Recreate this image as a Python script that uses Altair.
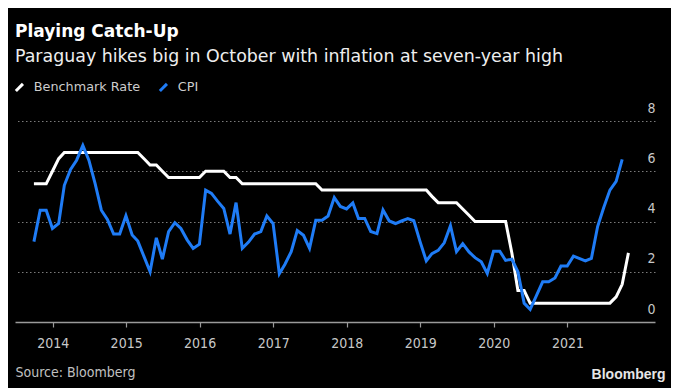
import altair as alt
import pandas as pd

# ---- data (monthly, month-end) ----
first_month = (2013, 9)  # September 2013
series_names = ["Benchmark Rate", "CPI"]
series_colors = ["#ffffff", "#1f7cf6"]

rate_values = (
    [5.5, 5.5, 5.5, 6.0, 6.5]
    + [6.75] * 13
    + [6.5, 6.25, 6.25, 6.0]
    + [5.75] * 6
    + [6.0] * 4
    + [5.75] * 2
    + [5.5] * 13
    + [5.25] * 18
    + [5.0]
    + [4.75] * 4
    + [4.5, 4.25]
    + [4.0] * 6
    + [2.75, 1.25, 1.25]
    + [0.75] * 14
    + [1.0, 1.5, 2.75]
)

cpi_values = [
    3.2, 4.45, 4.45, 3.72,                                   # 2013 Sep-Dec
    3.92, 5.44, 6.07, 6.44, 7.03, 6.44, 5.51, 4.45, 4.08, 3.5, 3.5, 4.23,   # 2014
    3.46, 3.22, 2.6, 2.0, 3.35, 2.5, 3.6, 3.95, 3.72, 3.27, 2.93, 3.1,      # 2015
    5.25, 5.12, 4.8, 4.52, 3.5, 4.75, 2.93, 3.18, 3.5, 3.6, 4.22, 3.92,     # 2016
    1.92, 2.3, 2.8, 3.64, 3.45, 2.93, 4.05, 4.05, 4.22, 4.95, 4.6, 4.5,     # 2017
    4.74, 4.12, 4.12, 3.6, 3.52, 4.46, 4.02, 3.92, 4.02, 4.12, 4.03, 3.2,   # 2018
    2.43, 2.72, 2.85, 3.15, 3.83, 2.8, 3.12, 2.79, 2.56, 2.4, 1.93, 2.82,   # 2019
    2.82, 2.45, 2.5, 2.0, 0.75, 0.5, 1.05, 1.6, 1.6, 1.75, 2.23, 2.23,      # 2020
    2.62, 2.53, 2.43, 2.53, 3.8, 4.55, 5.25, 5.6, 6.47,                     # 2021 Jan-Sep
]

year_ticks = list(range(2014, 2022))
y_ticks = [0, 2, 4, 6, 8]


def month_ends(n):
    out = []
    y, m = first_month
    for _ in range(n):
        ts = pd.Timestamp(year=y, month=m, day=1) + pd.offsets.MonthEnd(0)
        out.append(ts.strftime("%Y-%m-%d"))
        m += 1
        if m > 12:
            m = 1
            y += 1
    return out


df_rate = pd.DataFrame({"date": month_ends(len(rate_values)), "value": rate_values,
                        "series": series_names[0]})
df_cpi = pd.DataFrame({"date": month_ends(len(cpi_values)), "value": cpi_values,
                       "series": series_names[1]})

COND = "DejaVu Sans Condensed"
REG = "DejaVu Sans"

x_enc = alt.X(
    "date:T",
    scale=alt.Scale(domain=[alt.DateTime(year=2013, month=6, date=28),
                            alt.DateTime(year=2022, month=3, date=12)]),
    axis=alt.Axis(
        values=[alt.DateTime(year=y, month=1, date=1) for y in year_ticks],
        format="%Y", grid=False,
        domain=True, domainColor="#9a9a9a", domainWidth=1.5,
        ticks=True, tickColor="#9a9a9a", tickSize=5, tickWidth=1.2,
        labelFont=COND, labelFontSize=14, labelColor="#c8c8c8", labelPadding=9,
        title="Source: Bloomberg", titleX=0, titleY=54, titleAlign="left",
        titleBaseline="alphabetic", titleFont=COND, titleFontSize=14,
        titleFontWeight="normal", titleColor="#c0c0c0",
    ),
)

y_enc = alt.Y(
    "value:Q",
    scale=alt.Scale(domain=[0, 8], nice=False),
    axis=alt.Axis(
        orient="right", values=y_ticks,
        grid=True, gridDash=[1.5, 2.5], gridColor="#7a7a7a", gridWidth=1,
        gridOpacity={"condition": {"test": "datum.value === 0", "value": 0}, "value": 1},
        domain=False, ticks=False, tickSize=0,
        labelAlign="right", labelPadding=0, labelBaseline="alphabetic", labelOffset=-9,
        labelFont=COND, labelFontSize=14, labelColor="#c8c8c8",
        title="Bloomberg", titleAngle=0, titleAlign="right", titleBaseline="alphabetic",
        titleX=10, titleY=257, titleFont="Liberation Sans", titleFontWeight="bold",
        titleFontSize=14, titleColor="#e6e6e6",
    ),
)

color_enc = alt.Color(
    "series:N",
    scale=alt.Scale(domain=series_names, range=series_colors),
    legend=alt.Legend(
        orient="none", legendX=-2, legendY=-40, direction="horizontal", title=None,
        symbolType="M-1,1L1,-1", symbolSize=50, symbolStrokeWidth=3,
        labelFont=REG, labelFontSize=12.8, labelColor="#cccccc",
        labelOffset=8, columnPadding=12, padding=0,
    ),
)

rate_line = alt.Chart(df_rate).mark_line(strokeWidth=3).encode(x=x_enc, y=y_enc, color=color_enc)
cpi_line = alt.Chart(df_cpi).mark_line(strokeWidth=3).encode(x=x_enc, y=y_enc, color=color_enc)

chart = (
    alt.layer(rate_line, cpi_line)
    .properties(
        width=640, height=201,
        autosize=alt.AutoSizeParams(type="none"),
        padding={"left": 7, "top": 113, "right": 16, "bottom": 66},
        background="#000000",
        title=alt.TitleParams(
            text="Playing Catch-Up",
            subtitle="Paraguay hikes big in October with inflation at seven-year high",
            anchor="start", frame="group", dy=-11,
            font=REG, fontSize=17, fontWeight="bold", color="#ffffff",
            subtitleFont=REG, subtitleFontSize=17.4, subtitleColor="#eeeeee",
            subtitlePadding=7,
        ),
    )
    .configure_view(stroke=None)
)

chart.save("out.html", embed_options={"renderer": "svg", "actions": False})
